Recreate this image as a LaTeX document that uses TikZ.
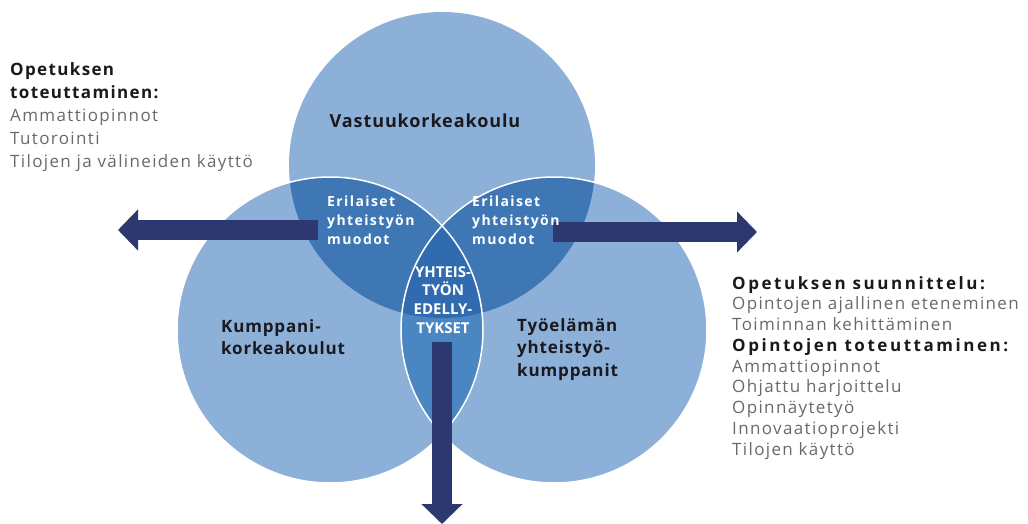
\documentclass[tikz,border=0pt]{standalone}
\usepackage{fontspec}
\setmainfont{Open Sans}
\newfontfamily\lsA[LetterSpace=5]{Open Sans}
\newfontfamily\lsB[LetterSpace=10]{Open Sans}
\newfontfamily\lsC[LetterSpace=8]{Open Sans}
\newfontfamily\lsD[LetterSpace=8]{Open Sans}
\newfontfamily\lsE[LetterSpace=15]{Open Sans}
\usetikzlibrary{arrows.meta}
\definecolor{light}{RGB}{141,176,216}
\definecolor{lens}{RGB}{63,119,180}
\definecolor{core}{RGB}{47,107,174}
\definecolor{vlens}{RGB}{74,134,194}
\definecolor{navy}{RGB}{46,56,112}
\definecolor{graytxt}{RGB}{105,105,105}
\definecolor{darktxt}{RGB}{25,25,30}
\tikzset{
  blockarrow/.style={draw=navy, line width=20pt, -{Triangle[width=40pt,length=20pt]}},
  circlabel/.style={inner sep=0pt, anchor=north west, align=left, text=darktxt,
    font=\lsA\bfseries\fontsize{17}{22.5}\selectfont},
  lenslabel/.style={inner sep=0pt, anchor=north west, align=left, text=white,
    font=\lsB\bfseries\fontsize{14}{19}\selectfont},
  sidetext/.style={inner sep=0pt, anchor=north west, align=left, text=graytxt},
}
\newcommand{\hdl}[1]{{\color{darktxt}\lsD\bfseries #1}}
\newcommand{\hdr}[1]{{\color{darktxt}\lsE\bfseries #1}}
\begin{document}
\begin{tikzpicture}[x=1pt,y=-1pt]
\useasboundingbox (0,0) rectangle (1028,524);
\def\R{153}
\coordinate (T) at (442,165);
\coordinate (L) at (330,330);
\coordinate (Rc) at (554,330);
% circles
\fill[light] (T) circle (\R);
\fill[light] (L) circle (\R);
\fill[light] (Rc) circle (\R);
\begin{scope}
  \clip (T) circle (\R);
  \fill[lens] (L) circle (\R);
  \fill[lens] (Rc) circle (\R);
\end{scope}
\begin{scope}
  \clip (L) circle (\R);
  \fill[vlens] (Rc) circle (\R);
\end{scope}
\begin{scope}
  \clip (T) circle (\R);
  \clip (L) circle (\R);
  \fill[core] (Rc) circle (\R);
\end{scope}
\draw[white, line width=1.5pt] (L) circle (\R);
\draw[white, line width=1.5pt] (Rc) circle (\R);
% arrows
\coordinate (la1) at (318,230);
\coordinate (la2) at (118,230);
\coordinate (ra1) at (553,232);
\coordinate (ra2) at (757,232);
\coordinate (da1) at (442,342);
\coordinate (da2) at (442,524);
\draw[blockarrow] (la1) -- (la2);
\draw[blockarrow] (ra1) -- (ra2);
\draw[blockarrow] (da1) -- (da2);
% circle labels
\node[inner sep=0pt, text=darktxt, font=\lsA\bfseries\fontsize{18}{20}\selectfont, anchor=base] (vk) at (425,128) {Vastuukorkeakoulu};
\node[circlabel] (kk) at (221,319) {Kumppani-\\korkeakoulut};
\node[circlabel] (ty) at (517,318) {Työelämän\\yhteistyö-\\kumppanit};
\node[lenslabel] (e1) at (327,196) {Erilaiset\\yhteistyön\\muodot};
\node[lenslabel] (e2) at (472,196) {Erilaiset\\yhteistyön\\muodot};
\node[inner sep=0pt, anchor=north, align=center, text=white,
  font=\bfseries\fontsize{15}{18.7}\selectfont] (ye) at (443,266) {YHTEIS-\\TYÖN\\EDELLY-\\TYKSET};
% side texts
\node[sidetext, font=\lsC\fontsize{17}{23}\selectfont] (lt) at (10,62)
  {\hdl{Opetuksen}\\\hdl{toteuttaminen:}\\Ammattiopinnot\\Tutorointi\\Tilojen ja välineiden käyttö};
\node[sidetext, font=\lsC\fontsize{17}{20.75}\selectfont] (rt) at (732,276)
  {\hdr{Opetuksen suunnittelu:}\\Opintojen ajallinen eteneminen\\Toiminnan kehittäminen\\\hdr{Opintojen toteuttaminen:}\\Ammattiopinnot\\Ohjattu harjoittelu\\Opinnäytetyö\\Innovaatioprojekti\\Tilojen käyttö};
\end{tikzpicture}
\end{document}
